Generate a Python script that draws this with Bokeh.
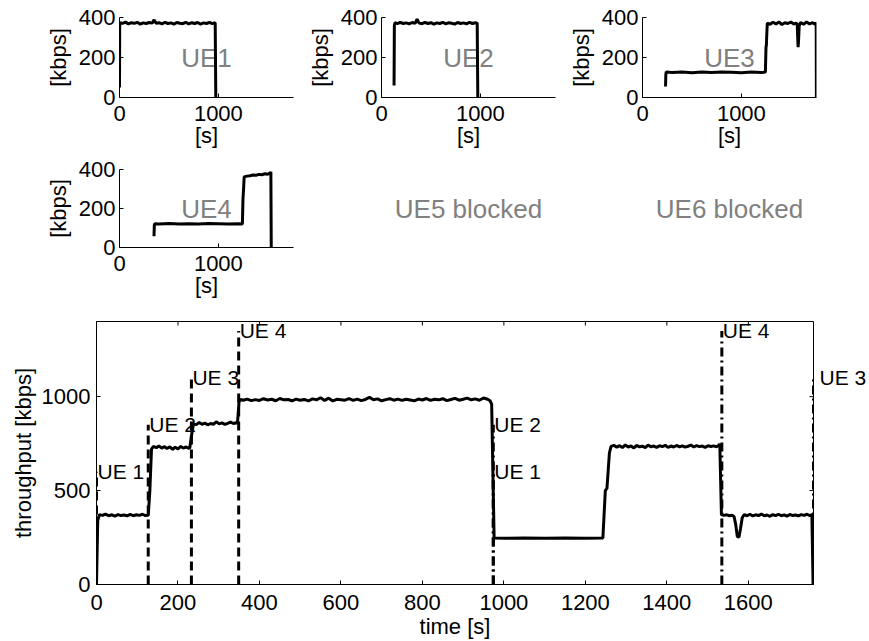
from bokeh.plotting import figure
from bokeh.models import Range1d, FixedTicker, LinearAxis, Label, ColumnDataSource
from bokeh.layouts import column, row
from bokeh.core.properties import value
from bokeh.embed import file_html
from bokeh.resources import INLINE

FONT = "Liberation Sans"
FS = "22px"
GRAY_FS = "26px"
GRAY = "#808080"
LW = 3

# ---------------- data ----------------
# aggregate throughput (main panel)
total_t = [0, 3, 7, 15, 22, 30, 38, 45, 53, 60, 68, 75, 83, 90, 98, 105, 113, 120, 127,
           131, 135, 140, 147, 153, 160, 167, 173, 180, 187, 193, 200, 207, 213, 220, 227, 229,
           233, 238, 245, 252, 259, 266, 273, 280, 287, 294, 301, 308, 315, 322, 329, 336, 343, 346,
           350, 354, 360, 370, 380, 390, 400, 410, 420, 430, 440, 450, 460, 470, 480, 490, 500,
           510, 520, 530, 540, 550, 560, 570, 580, 590, 600, 610, 620, 630, 640, 650, 660, 670,
           680, 690, 700, 710, 720, 730, 740, 750, 760, 770, 780, 790, 800, 810, 820, 830, 840,
           850, 860, 870, 880, 890, 900, 910, 920, 930, 940, 950, 960, 966,
           970, 973, 976, 1000, 1050, 1100, 1150, 1200, 1243,
           1249, 1253, 1259, 1263, 1270, 1277, 1284, 1291, 1298, 1305, 1312, 1319, 1326, 1333,
           1340, 1347, 1354, 1361, 1368, 1375, 1382, 1389, 1396, 1403, 1410, 1417, 1424, 1431,
           1438, 1445, 1452, 1459, 1466, 1473, 1480, 1487, 1494, 1501, 1508, 1515, 1522, 1527, 1530,
           1534, 1540, 1547, 1554, 1560, 1565, 1569, 1573, 1577, 1581, 1585, 1590, 1597, 1604,
           1611, 1618, 1625, 1632, 1639, 1646, 1653, 1660, 1667, 1674, 1681, 1688, 1695, 1702,
           1709, 1716, 1723, 1730, 1737, 1744, 1751, 1756, 1759]
total_v = [0, 340, 372, 368, 375, 366, 371, 364, 372, 367, 370, 365, 373, 366, 371, 368, 374, 367, 368,
           500, 720, 735, 728, 738, 726, 734, 724, 733, 719, 731, 722, 735, 726, 732, 725, 728,
           790, 855, 851, 862, 853, 859, 850, 857, 853, 866, 855, 860, 852, 858, 864, 857, 861, 858,
           975, 985, 981, 987, 979, 984, 980, 989, 982, 986, 978, 990, 983, 985, 978, 987, 981,
           985, 977, 988, 983, 994, 980, 992, 977, 986, 984, 981, 989, 980, 987, 979, 985, 996,
           983, 988, 978, 984, 989, 981, 987, 980, 986, 982, 978, 987, 982, 990, 980, 986, 983,
           989, 979, 985, 991, 981, 986, 992, 983, 988, 981, 993, 986, 978,
           960, 600, 248, 246, 248, 246, 247, 246, 248,
           500, 512, 700, 735, 741, 731, 739, 729, 743, 732, 737, 727, 740, 733,
           736, 729, 742, 733, 737, 730, 739, 734, 741, 730, 737, 732, 740, 733,
           738, 731, 736, 742, 732, 739, 734, 737, 730, 739, 735, 738, 733, 740, 748,
           372, 368, 371, 366, 369, 362, 320, 255, 252, 300, 355, 372, 366, 374,
           365, 371, 367, 375, 366, 370, 363, 372, 367, 374, 366, 371, 364, 373,
           367, 370, 365, 372, 368, 374, 367, 372, 0]

# per-UE throughput (small panels)
ue1_t = [0, 2, 8, 30, 60, 90, 120, 150, 180, 210, 240, 270, 300, 330, 350, 370, 400, 430, 460, 490,
         520, 550, 580, 610, 640, 670, 700, 730, 760, 790, 820, 850, 880, 910, 940, 968, 974]
ue1_v = [50, 360, 375, 370, 377, 368, 374, 371, 376, 367, 373, 370, 375, 372, 388, 371, 374, 368, 376, 370,
         373, 367, 375, 371, 369, 376, 368, 374, 370, 375, 367, 373, 370, 376, 369, 374, 0]
ue2_t = [127, 130, 136, 160, 190, 220, 250, 280, 310, 340, 360, 380, 410, 440, 470, 500, 530, 560, 590, 620,
         650, 680, 710, 740, 770, 800, 830, 860, 890, 920, 950, 968, 974]
ue2_v = [60, 360, 374, 369, 376, 370, 373, 368, 375, 371, 392, 372, 369, 376, 370, 374, 367, 373, 370, 376,
         368, 374, 371, 367, 375, 370, 373, 368, 376, 370, 374, 372, 0]
ue3_t = [233, 236, 240, 300, 400, 500, 600, 700, 800, 900, 1000, 1100, 1200, 1243, 1249, 1253, 1259, 1263,
         1290, 1320, 1350, 1380, 1410, 1440, 1470, 1500, 1530, 1555, 1565, 1570, 1574, 1578, 1585, 1600,
         1630, 1660, 1690, 1720, 1750, 1757, 1759]
ue3_v = [55, 115, 127, 125, 128, 124, 127, 125, 128, 126, 124, 127, 125, 127, 250, 262, 340, 372,
         366, 376, 368, 378, 365, 374, 370, 377, 367, 372, 366, 300, 252, 280, 360, 375,
         366, 378, 368, 374, 365, 376, 0]
ue4_t = [349, 352, 356, 400, 500, 600, 700, 800, 900, 1000, 1100, 1200, 1243, 1249, 1255, 1261,
         1290, 1320, 1350, 1380, 1410, 1440, 1470, 1500, 1525, 1531, 1535]
ue4_v = [58, 112, 122, 121, 123, 120, 122, 121, 123, 122, 120, 122, 121, 250, 300, 362,
         366, 368, 372, 370, 375, 373, 378, 376, 382, 388, 0]

ue_names = ["UE1", "UE2", "UE3", "UE4", "UE5 blocked", "UE6 blocked"]

# events (arrivals dashed, departures dash-dot)
arr_t = [0, 127, 233, 349]
arr_h = [600, 850, 1100, 1350]
arr_lbl = ["UE 1", "UE 2", "UE 3", "UE 4"]
dep_t = [974, 974, 1535, 1760]
dep_h = [850, 600, 1350, 1100]
dep_lbl = ["UE 2", "UE 1", "UE 4", "UE 3"]

sub_xticks = [0, 1000]
sub_yticks = [0, 200, 400]
main_xticks = [0, 200, 400, 600, 800, 1000, 1200, 1400, 1600]
main_yticks = [0, 500, 1000]
T_MAX = 1760
SUB_YMAX = 400
MAIN_YMAX = 1400


def style_axis(ax, ticks, label=None):
    ax.ticker = FixedTicker(ticks=ticks)
    ax.major_tick_in = 4
    ax.major_tick_out = 0
    ax.minor_tick_in = 0
    ax.minor_tick_out = 0
    ax.minor_tick_line_color = None
    ax.major_tick_line_color = "black"
    ax.axis_line_color = "black"
    ax.major_label_text_font = FONT
    ax.major_label_text_font_size = FS
    ax.major_label_text_color = "black"
    ax.axis_label_text_font = FONT
    ax.axis_label_text_font_size = FS
    ax.axis_label_text_font_style = "normal"
    ax.axis_label_text_color = "black"
    if label is not None:
        ax.axis_label = label


def small(width, left, right, top, bottom, t, v, name):
    p = figure(width=width, height=150, x_range=Range1d(0, T_MAX), y_range=Range1d(0, SUB_YMAX),
               output_backend="svg", toolbar_location=None,
               min_border_left=left, min_border_right=right,
               min_border_top=top, min_border_bottom=bottom)
    p.outline_line_color = None
    p.grid.visible = False
    p.background_fill_color = "white"
    p.border_fill_color = "white"
    p.text(x=[T_MAX / 2], y=[SUB_YMAX / 2], text=[name], text_font=value(FONT),
           text_font_size=GRAY_FS, text_color=GRAY, text_align="center", text_baseline="middle")
    if t is None:
        p.axis.visible = False
    else:
        p.line(t, v, line_color="black", line_width=LW)
        style_axis(p.xaxis[0], sub_xticks, "[s]")
        style_axis(p.yaxis[0], sub_yticks, "[kbps]")
        p.xaxis.major_label_standoff = 8
        p.yaxis.major_label_standoff = 4
        p.xaxis.axis_label_standoff = -1
        p.yaxis.axis_label_standoff = 5
    return p


f1 = small(300, 119, 7, 17, 52, ue1_t, ue1_v, ue_names[0])
f2 = small(262, 81, 7, 17, 52, ue2_t, ue2_v, ue_names[1])
f3 = small(307, 80, 53, 17, 52, ue3_t, ue3_v, ue_names[2])
f4 = small(300, 119, 7, 19, 50, ue4_t, ue4_v, ue_names[3])
f5 = small(262, 81, 7, 19, 50, None, None, ue_names[4])
f6 = small(307, 80, 53, 19, 50, None, None, ue_names[5])

# ---------------- main panel ----------------
M_W, M_H, M_L, M_R, M_T, M_B = 869, 341, 96, 53, 21, 57
pm = figure(width=M_W, height=M_H, x_range=Range1d(0, T_MAX), y_range=Range1d(0, MAIN_YMAX),
            output_backend="svg", toolbar_location=None,
            min_border_left=M_L, min_border_right=M_R, min_border_top=M_T, min_border_bottom=M_B)
pm.grid.visible = False
pm.outline_line_color = "black"
pm.outline_line_width = 1
pm.background_fill_color = "white"
pm.border_fill_color = "white"

pm.line(total_t, total_v, line_color="black", line_width=LW)

arr_src = ColumnDataSource(dict(x=arr_t, y0=[0] * len(arr_t), y1=arr_h))
dep_src = ColumnDataSource(dict(x=dep_t, y0=[0] * len(dep_t), y1=dep_h))
pm.segment(x0="x", y0="y0", x1="x", y1="y1", source=arr_src, line_color="black",
           line_width=LW, line_dash="9 5")
pm.segment(x0="x", y0="y0", x1="x", y1="y1", source=dep_src, line_color="black",
           line_width=LW, line_dash="9 4 2 4")

# inward tick marks on the top and right frame edges (box on)
TICK_PX = 4
frame_w = M_W - M_L - M_R
frame_h = M_H - M_T - M_B
dy = TICK_PX * MAIN_YMAX / frame_h
dx = TICK_PX * T_MAX / frame_w
pm.segment(x0=main_xticks, y0=[MAIN_YMAX] * len(main_xticks), x1=main_xticks,
           y1=[MAIN_YMAX - dy] * len(main_xticks), line_color="black", line_width=1)
pm.segment(x0=[T_MAX] * len(main_yticks), y0=main_yticks, x1=[T_MAX - dx] * len(main_yticks),
           y1=main_yticks, line_color="black", line_width=1)

# event labels inside the frame
inside = [(x, h, s) for xs, hs, ls in ((arr_t, arr_h, arr_lbl), (dep_t, dep_h, dep_lbl))
          for x, h, s in zip(xs, hs, ls) if x < T_MAX]
for x, h, s in inside:
    pm.add_layout(Label(x=x, y=h, text=s, x_offset=1, text_align="left",
                        text_baseline="middle", text_font=FONT, text_font_size="21px",
                        text_color="black"))

# event labels at the right edge of the frame (outside the clip region) via a right axis
edge = [(h, s) for x, h, s in zip(dep_t, dep_h, dep_lbl) if x >= T_MAX]
right_ax = LinearAxis(ticker=FixedTicker(ticks=[h for h, s in edge]),
                      major_label_overrides={h: s for h, s in edge})
right_ax.major_tick_line_color = None
right_ax.minor_tick_line_color = None
right_ax.axis_line_color = None
right_ax.major_tick_in = 0
right_ax.major_tick_out = 0
right_ax.minor_tick_in = 0
right_ax.minor_tick_out = 0
right_ax.major_label_standoff = 2
right_ax.axis_label_standoff = 0
right_ax.major_label_text_font = FONT
right_ax.major_label_text_font_size = "21px"
right_ax.major_label_text_color = "black"
pm.add_layout(right_ax, "right")

style_axis(pm.xaxis[0], main_xticks, "time [s]")
style_axis(pm.yaxis[0], main_yticks, "throughput [kbps]")
pm.xaxis.major_label_standoff = 10
pm.yaxis.major_label_standoff = 6
pm.xaxis.axis_label_standoff = 1
pm.yaxis.axis_label_standoff = 3

layout = column(row(f1, f2, f3), row(f4, f5, f6), pm)
open("out.html", "w").write(file_html(layout, INLINE))
